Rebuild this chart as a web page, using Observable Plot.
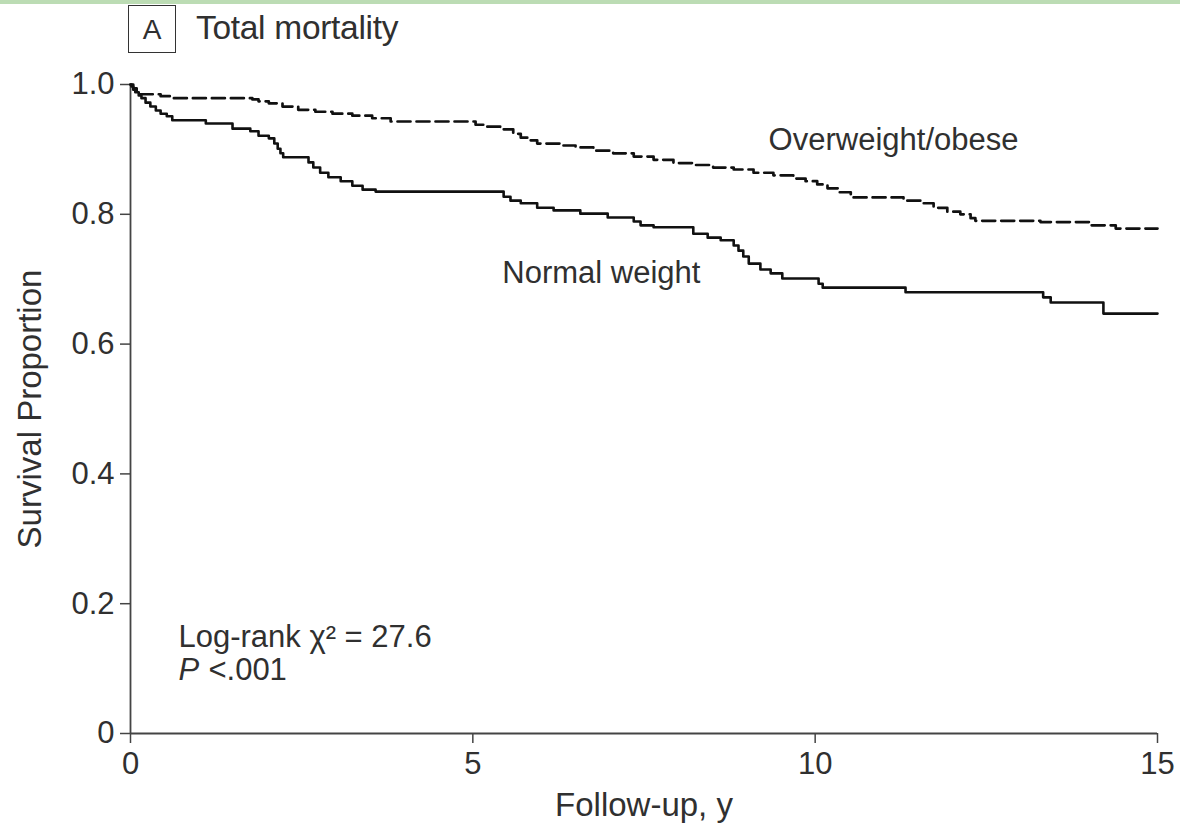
<!DOCTYPE html>
<html>
<head>
<meta charset="utf-8">
<script src="https://cdn.jsdelivr.net/npm/d3@7"></script>
<script src="https://cdn.jsdelivr.net/npm/@observablehq/plot@0.6"></script>
<style>
  html, body { margin: 0; padding: 0; background: #fff; }
  body { width: 1180px; height: 832px; overflow: hidden; font-family: "Liberation Sans", Arial, sans-serif; color: #303030; }
  #topline { position: absolute; left: 0; top: 0; width: 1180px; height: 4px; background: #bcdcb4; }
  #head { position: relative; height: 50px; }
  #box { position: absolute; left: 128px; top: 5px; width: 46px; height: 46px; border: 1.5px solid #333; font-size: 28px; line-height: 48px; text-align: center; }
  #ttl { position: absolute; left: 196px; top: 8px; font-size: 33.5px; line-height: 40px; letter-spacing: -0.3px; }
  svg { display: block; }
</style>
</head>
<body>
<div id="topline"></div>
<div id="head"><div id="box">A</div><div id="ttl">Total mortality</div></div>
<div id="chart"></div>
<script>
// Kaplan–Meier step points (years, survival proportion)
const normalTime = [0, 0.015, 0.04, 0.07, 0.12, 0.16, 0.22, 0.29, 0.37, 0.44, 0.53, 0.61, 1.10, 1.49, 1.75, 1.87, 2.02, 2.10, 2.15, 2.19, 2.23, 2.60, 2.67, 2.77, 2.89, 3.07, 3.24, 3.39, 3.58, 5.45, 5.55, 5.70, 5.94, 6.18, 6.57, 6.97, 7.35, 7.45, 7.64, 8.22, 8.43, 8.62, 8.81, 8.88, 8.95, 9.03, 9.20, 9.35, 9.52, 10.05, 10.11, 11.32, 13.33, 13.44, 14.21, 15];
const normalSurv = [1.0, 0.997, 0.992, 0.988, 0.983, 0.979, 0.972, 0.966, 0.960, 0.955, 0.951, 0.945, 0.940, 0.932, 0.928, 0.921, 0.917, 0.909, 0.901, 0.894, 0.888, 0.880, 0.872, 0.864, 0.857, 0.851, 0.844, 0.838, 0.835, 0.827, 0.821, 0.817, 0.810, 0.806, 0.801, 0.795, 0.789, 0.783, 0.780, 0.770, 0.764, 0.760, 0.752, 0.744, 0.735, 0.724, 0.715, 0.709, 0.701, 0.693, 0.687, 0.680, 0.672, 0.664, 0.647, 0.647];

const overTime = [0, 0.04, 0.09, 0.13, 0.44, 0.61, 1.78, 1.87, 2.02, 2.22, 2.45, 2.70, 2.95, 3.24, 3.53, 3.80, 5.04, 5.21, 5.40, 5.59, 5.70, 5.80, 5.94, 6.28, 6.50, 6.76, 7.05, 7.35, 7.64, 7.93, 8.22, 8.51, 8.81, 9.10, 9.39, 9.68, 9.86, 10.03, 10.18, 10.33, 10.52, 11.29, 11.54, 11.73, 11.93, 12.12, 12.27, 12.34, 13.29, 14.02, 14.39, 15];
const overSurv = [1.0, 0.994, 0.989, 0.985, 0.982, 0.979, 0.977, 0.974, 0.971, 0.966, 0.961, 0.958, 0.955, 0.952, 0.948, 0.943, 0.938, 0.935, 0.931, 0.924, 0.918, 0.914, 0.909, 0.906, 0.903, 0.898, 0.894, 0.889, 0.884, 0.879, 0.876, 0.872, 0.869, 0.864, 0.860, 0.855, 0.851, 0.846, 0.840, 0.834, 0.826, 0.821, 0.817, 0.810, 0.804, 0.800, 0.794, 0.790, 0.788, 0.783, 0.778, 0.778];

const seriesNames = ["Normal weight", "Overweight/obese"];
const xTicks = [0, 5, 10, 15];
const xTickLabels = ["0", "5", "10", "15"];
const yTicks = [0, 0.2, 0.4, 0.6, 0.8, 1.0];
const yTickLabels = ["0", "0.2", "0.4", "0.6", "0.8", "1.0"];
const xTitle = "Follow-up, y";
const yTitle = "Survival Proportion";
const statLine1 = "Log-rank \u03C7\u00B2 = 27.6";
const statP = "P";
const statLine2 = "<.001";

const normal = normalTime.map((t, i) => ({t, s: normalSurv[i]}));
const over = overTime.map((t, i) => ({t, s: overSurv[i]}));

const ink = "#303030";
const fam = "Liberation Sans, Arial, sans-serif";

const chart = Plot.plot({
  width: 1180,
  height: 782,
  marginLeft: 130,
  marginRight: 23,
  marginTop: 34,
  marginBottom: 99,
  style: {fontFamily: fam, fontSize: "31px", color: ink, background: "#fff"},
  x: {domain: [0, 15]},
  y: {domain: [0, 1]},
  marks: [
    Plot.axisX({ticks: xTicks, tickFormat: (d) => xTickLabels[xTicks.indexOf(d)], tickSize: 10, tickPadding: 8, stroke: "#444", strokeWidth: 1.5, fill: ink, fontSize: 31, label: null}),
    Plot.axisY({ticks: yTicks, tickFormat: (d) => yTickLabels[yTicks.indexOf(d)], tickSize: 10, tickPadding: 6, stroke: "#444", strokeWidth: 1.5, fill: ink, fontSize: 31, label: null}),
    Plot.ruleX([0], {stroke: "#444", strokeWidth: 1.8}),
    Plot.ruleY([0], {stroke: "#444", strokeWidth: 1.8}),
    Plot.line(over, {x: "t", y: "s", curve: "step-after", stroke: "#111", strokeWidth: 2.7, strokeDasharray: "13,6"}),
    Plot.line(normal, {x: "t", y: "s", curve: "step-after", stroke: "#111", strokeWidth: 2.6}),
    Plot.text([seriesNames[1]], {x: 9.32, y: 0.914, text: d => d, textAnchor: "start", fontSize: 31, fill: ink}),
    Plot.text([seriesNames[0]], {x: 5.43, y: 0.710, text: d => d, textAnchor: "start", fontSize: 31, fill: ink}),
    Plot.text([statLine1], {x: 0.70, y: 0.148, text: d => d, textAnchor: "start", fontSize: 31, fill: ink}),
    Plot.text([statP], {x: 0.70, y: 0.097, text: d => d, textAnchor: "start", fontSize: 31, fontStyle: "italic", fill: ink}),
    Plot.text([statLine2], {x: 0.70, y: 0.097, dx: 30, text: d => d, textAnchor: "start", fontSize: 31, fill: ink}),
    Plot.text([xTitle], {frameAnchor: "bottom", dy: 72, lineAnchor: "middle", text: d => d, fontSize: 33, fill: ink}),
    Plot.text([yTitle], {frameAnchor: "left", dx: -100, rotate: -90, lineAnchor: "middle", textAnchor: "middle", text: d => d, fontSize: 33, fill: ink})
  ]
});
document.getElementById("chart").appendChild(chart);
</script>
</body>
</html>
